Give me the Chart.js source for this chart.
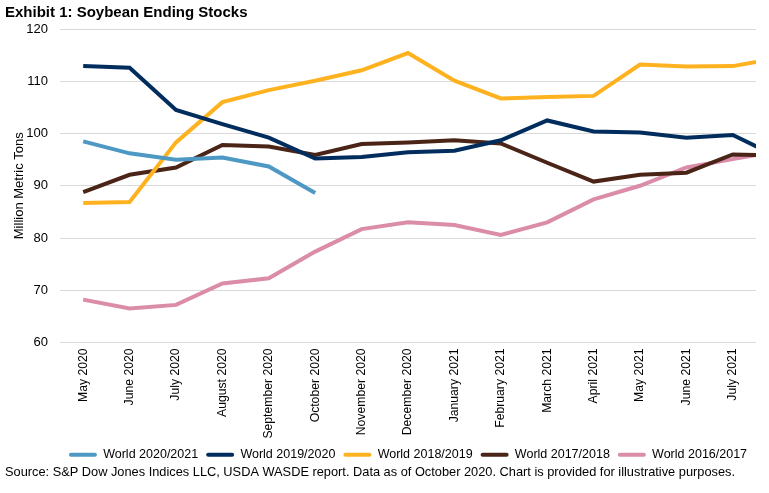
<!DOCTYPE html>
<html>
<head>
<meta charset="utf-8">
<script src="https://cdn.jsdelivr.net/npm/chart.js@4"></script>
<style>
  html, body { margin: 0; padding: 0; background: #fff; }
  #wrap { width: 769px; height: 493px; position: relative; }
</style>
</head>
<body>
<div id="wrap"><canvas id="c"></canvas></div>
<script>
// Month categories (the last, August 2021, lies just past the clipped right edge)
const categories = ["May 2020", "June 2020", "July 2020", "August 2020", "September 2020",
  "October 2020", "November 2020", "December 2020", "January 2021", "February 2021",
  "March 2021", "April 2021", "May 2021", "June 2021", "July 2021", "August 2021"];

const world2020_2021 = [98.5, 96.2, 95.0, 95.4, 93.7, 88.6];
const world2019_2020 = [112.9, 112.6, 104.5, 101.8, 99.2, 95.2, 95.5, 96.4, 96.7, 98.7, 102.5, 100.4, 100.2, 99.2, 99.7, 95.4];
const world2018_2019 = [86.7, 86.9, 98.3, 106.0, 108.3, 110.1, 112.1, 115.4, 110.1, 106.7, 107.0, 107.2, 113.2, 112.8, 112.9, 114.5];
const world2017_2018 = [88.8, 92.1, 93.5, 97.8, 97.5, 95.9, 98.0, 98.3, 98.7, 98.1, 94.4, 90.8, 92.1, 92.5, 96.0, 95.8];
const world2016_2017 = [68.2, 66.5, 67.2, 71.3, 72.3, 77.4, 81.7, 83.0, 82.5, 80.6, 83.0, 87.4, 90.0, 93.5, 95.1, 96.7];

const yTicks = [60, 70, 80, 90, 100, 110, 120];
const visibleCount = 15;

const seriesNames = ["World 2020/2021", "World 2019/2020", "World 2018/2019", "World 2017/2018", "World 2016/2017"];
const seriesData = [world2020_2021, world2019_2020, world2018_2019, world2017_2018, world2016_2017];
const seriesColors = ["#4E98C4", "#002D5E", "#FFB21F", "#4A2416", "#DA8CA8"];

const FONT = "'Liberation Sans', Arial, sans-serif";

const sourcePlugin = {
  id: 'sourceNote',
  afterDraw(chart) {
    const ctx = chart.ctx;
    ctx.save();
    ctx.font = "12.8px " + FONT;
    ctx.fillStyle = "#000";
    ctx.textBaseline = "middle";
    ctx.textAlign = "left";
    ctx.fillText("Source: S&P Dow Jones Indices LLC, USDA WASDE report. Data as of October 2020. Chart is provided for illustrative purposes.", 5, 472);
    ctx.restore();
  }
};

new Chart(document.getElementById('c'), {
  type: 'line',
  data: {
    datasets: seriesData.map((arr, k) => ({
      label: seriesNames[k],
      data: arr.map((v, i) => ({ x: i, y: v })),
      borderColor: seriesColors[k],
      backgroundColor: seriesColors[k],
      borderWidth: 4,
      pointRadius: 0,
      pointHoverRadius: 0,
      tension: 0,
      fill: false
    }))
  },
  options: {
    responsive: true,
    maintainAspectRatio: false,
    animation: false,
    layout: { padding: { left: 5, right: 13, top: 0, bottom: 22 } },
    plugins: {
      title: {
        display: true,
        text: "Exhibit 1: Soybean Ending Stocks",
        align: 'start',
        color: '#000',
        font: { family: FONT, size: 15, weight: 'bold' },
        padding: { top: 4, bottom: 7 }
      },
      legend: {
        position: 'bottom',
        fullSize: false,
        labels: {
          color: '#000',
          font: { family: FONT, size: 12.5 },
          boxWidth: 28,
          boxHeight: 4,
          padding: 8,
          useBorderRadius: true,
          borderRadius: 2,
          generateLabels(chart) {
            const items = Chart.defaults.plugins.legend.labels.generateLabels(chart);
            items.forEach(it => { it.lineWidth = 0; });
            return items;
          }
        }
      },
      tooltip: { enabled: false }
    },
    scales: {
      x: {
        type: 'linear',
        min: -0.5,
        max: visibleCount - 0.5,
        afterBuildTicks(scale) {
          scale.ticks = categories.slice(0, visibleCount).map((_, i) => ({ value: i }));
        },
        afterFit(scale) { scale.height = 98; },
        grid: { display: false, drawTicks: false },
        border: { display: false },
        ticks: {
          autoSkip: false,
          maxRotation: 90,
          minRotation: 90,
          padding: 6,
          color: '#000',
          font: { family: FONT, size: 12.2 },
          callback: (v) => categories[v]
        }
      },
      y: {
        min: 60,
        max: 120,
        afterBuildTicks(scale) {
          scale.ticks = yTicks.map(v => ({ value: v }));
        },
        afterFit(scale) { scale.width = 55; },
        grid: { color: '#d9d9d9', lineWidth: 1, drawTicks: false },
        border: { display: false },
        ticks: {
          padding: 12,
          color: '#000',
          font: { family: FONT, size: 13 }
        },
        title: {
          display: true,
          text: "Million Metric Tons",
          color: '#000',
          font: { family: FONT, size: 13 },
          padding: { top: 7, bottom: 0 }
        }
      }
    }
  },
  plugins: [sourcePlugin]
});
</script>
</body>
</html>
